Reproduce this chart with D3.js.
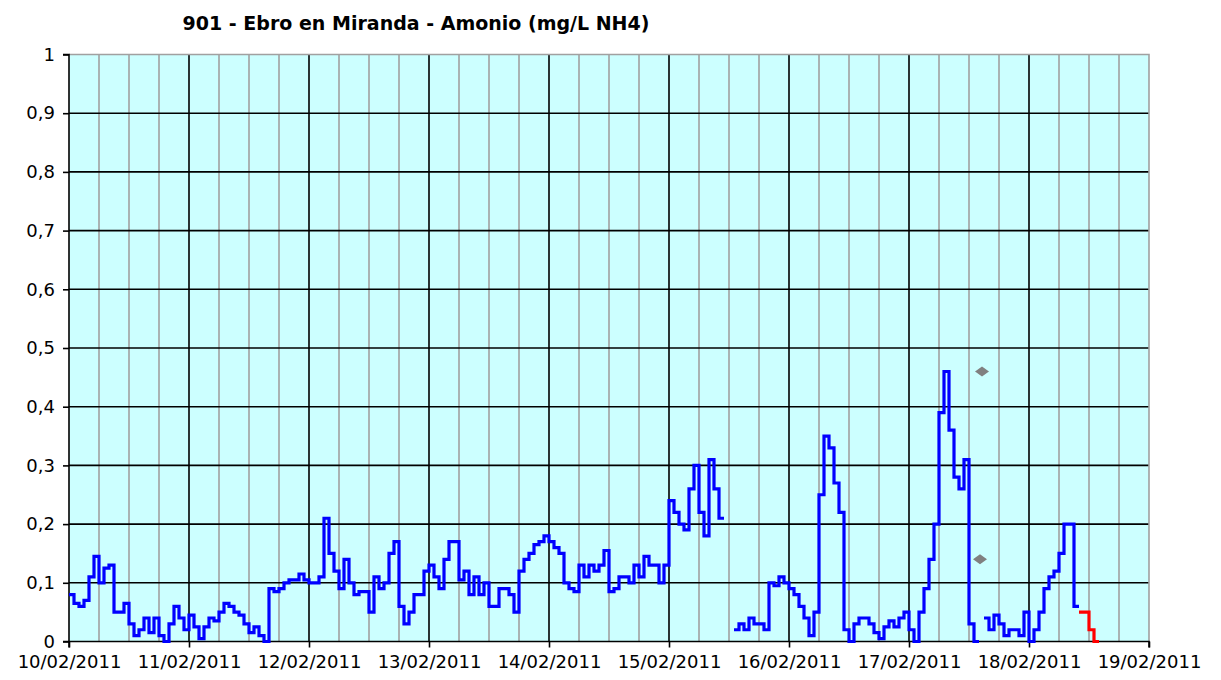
<!DOCTYPE html>
<html><head><meta charset="utf-8">
<script src="https://cdn.jsdelivr.net/npm/d3@7"></script>
<style>
body{margin:0;background:#fff}
svg{display:block}
text{font-family:"DejaVu Sans",Verdana,sans-serif;fill:#000}
</style>
</head><body>
<svg id="chart" width="1221" height="680"></svg>
<script>
// ---------------- data ----------------
const title = "901 - Ebro en Miranda - Amonio (mg/L NH4)";
const startDate = "2011-02-10T00:00";
const endDate = "2011-02-19T00:00";
const yTickValues = [0, 0.1, 0.2, 0.3, 0.4, 0.5, 0.6, 0.7, 0.8, 0.9, 1];

// hourly values (mg/L NH4), one array per day, null = no data
const day10 = [0.08,0.065,0.06,0.07,0.11,0.145,0.10,0.125,0.13,0.05,0.05,0.065,0.03,0.01,0.02,0.04,0.015,0.04,0.01,0.0,0.03,0.06,0.04,0.02];
const day11 = [0.045,0.025,0.005,0.025,0.04,0.035,0.05,0.065,0.06,0.05,0.045,0.03,0.015,0.025,0.01,0.0,0.09,0.085,0.09,0.10,0.105,0.105,0.115,0.105];
const day12 = [0.10,0.10,0.11,0.21,0.15,0.12,0.09,0.14,0.10,0.08,0.085,0.085,0.05,0.11,0.09,0.10,0.15,0.17,0.06,0.03,0.05,0.08,0.08,0.12];
const day13 = [0.13,0.11,0.09,0.14,0.17,0.17,0.105,0.12,0.08,0.11,0.08,0.10,0.06,0.06,0.09,0.09,0.08,0.05,0.12,0.14,0.15,0.165,0.17,0.18];
const day14 = [0.17,0.16,0.15,0.10,0.09,0.085,0.13,0.11,0.13,0.12,0.13,0.155,0.085,0.09,0.11,0.11,0.10,0.13,0.11,0.145,0.13,0.13,0.10,0.13];
const day15 = [0.24,0.22,0.20,0.19,0.26,0.30,0.22,0.18,0.31,0.26,0.21,null,null,0.02,0.03,0.02,0.04,0.03,0.03,0.02,0.10,0.095,0.11,0.10];
const day16 = [0.09,0.08,0.06,0.04,0.01,0.05,0.25,0.35,0.33,0.27,0.22,0.02,0.0,0.03,0.04,0.04,0.03,0.015,0.005,0.025,0.035,0.025,0.04,0.05];
const day17 = [0.02,0.0,0.05,0.09,0.14,0.20,0.39,0.46,0.36,0.28,0.26,0.31,0.03,0.0,null,0.04,0.02,0.045,0.03,0.01,0.02,0.02,0.01,0.05];
const day18 = [0.0,0.02,0.05,0.09,0.11,0.12,0.15,0.20,0.20,0.06];

// provisional values (red), hourly from redStart
const redStart = "2011-02-18T10:00";
const redValues = [0.05,0.05,0.02,0.0];

// grey diamond samples
const sampleTimes = ["2011-02-17T14:36","2011-02-17T14:12"];
const sampleValues = [0.46,0.14];

// ---------------- chart ----------------
const parse = d3.timeParse("%Y-%m-%dT%H:%M");
const t0 = parse(startDate), t1 = parse(endDate);
const svg = d3.select("#chart");

const x = d3.scaleTime().domain([t0, t1]).range([69, 1149]);
const y = d3.scaleLinear().domain([0, 1]).range([641.5, 54.5]);

const locale = d3.formatLocale({decimal: ",", thousands: ".", grouping: [3], currency: ["", "€"]});
const yFmt = locale.format("~g");
const xFmt = d3.timeFormat("%d/%m/%Y");

// plot background
svg.append("rect")
  .attr("x", x(t0)).attr("y", y(1))
  .attr("width", x(t1) - x(t0)).attr("height", y(0) - y(1))
  .attr("fill", "#CCFFFF");

// minor vertical grid (every 6 hours)
const minor = d3.timeHour.every(6).range(t0, t1).filter(d => d.getHours() !== 0);
svg.append("g").selectAll("line").data(minor).join("line")
  .attr("x1", d => x(d)).attr("x2", d => x(d))
  .attr("y1", y(1)).attr("y2", y(0))
  .attr("stroke", "#a0a0a0").attr("stroke-width", 1.6);

// major vertical grid (days)
const days = d3.timeDay.range(t0, d3.timeDay.offset(t1, 1));
svg.append("g").selectAll("line").data(days.slice(1, -1)).join("line")
  .attr("x1", d => x(d)).attr("x2", d => x(d))
  .attr("y1", y(1)).attr("y2", y(0))
  .attr("stroke", "#000").attr("stroke-width", 1.6);

// horizontal grid
svg.append("g").selectAll("line").data(yTickValues.slice(1, -1)).join("line")
  .attr("x1", x(t0)).attr("x2", x(t1))
  .attr("y1", d => y(d)).attr("y2", d => y(d))
  .attr("stroke", "#000").attr("stroke-width", 1.6);

// grey border (top / right)
svg.append("path")
  .attr("d", `M${x(t0)},${y(1)}H${x(t1)}V${y(0)}`)
  .attr("fill", "none").attr("stroke", "#a0a0a0").attr("stroke-width", 1.6);

// axes
const yAxis = d3.axisLeft(y).tickValues(yTickValues).tickFormat(yFmt).tickSize(6).tickPadding(8);
const gy = svg.append("g").attr("transform", `translate(${x(t0)},0)`).call(yAxis);
const xAxis = d3.axisBottom(x).tickValues(days).tickFormat(xFmt).tickSize(6).tickPadding(8);
const gx = svg.append("g").attr("transform", `translate(0,${y(0)})`).call(xAxis);
[gx, gy].forEach(g => {
  g.select(".domain").attr("stroke", "#000").attr("stroke-width", 1.6);
  g.selectAll(".tick line").attr("stroke", "#000").attr("stroke-width", 1.6);
  g.selectAll("text").attr("font-size", 18).attr("font-family", '"DejaVu Sans",Verdana,sans-serif').attr("fill", "#111");
});
gx.select(".domain").attr("d", `M${x(t0)},6V0H${x(t1)}V6`);
gy.select(".domain").attr("d", `M-6,${y(0)}H0V${y(1)}H-6`);

// build stepped series
function stepPoints(start, values) {
  const pts = [];
  values.forEach((v, i) => {
    const a = d3.timeHour.offset(start, i), b = d3.timeHour.offset(start, i + 1);
    if (v == null) pts.push({t: a, v: null});
    else { pts.push({t: a, v}); pts.push({t: b, v}); }
  });
  return pts;
}
const blueValues = [].concat(day10, day11, day12, day13, day14, day15, day16, day17, day18);
const line = d3.line().defined(d => d.v != null).x(d => x(d.t)).y(d => y(d.v));

svg.append("path").datum(stepPoints(t0, blueValues))
  .attr("d", line).attr("fill", "none")
  .attr("stroke", "#0000FF").attr("stroke-width", 3.2).attr("stroke-linejoin", "miter");

svg.append("path").datum(stepPoints(parse(redStart), redValues))
  .attr("d", line).attr("fill", "none")
  .attr("stroke", "#FF0000").attr("stroke-width", 3.2).attr("stroke-linejoin", "miter");

// sample diamonds
const sym = d3.symbol().type(d3.symbolSquare).size(50);
svg.append("g").selectAll("path").data(sampleTimes.map((t, i) => ({t: parse(t), v: sampleValues[i]}))).join("path")
  .attr("d", sym)
  .attr("transform", d => `translate(${x(d.t)},${y(d.v)}) scale(1.4,1) rotate(45)`)
  .attr("fill", "#808080");

// title
svg.append("text")
  .attr("x", 416).attr("y", 30)
  .attr("text-anchor", "middle")
  .attr("font-size", 19).attr("font-weight", "bold")
  .text(title);
</script>
</body></html>
